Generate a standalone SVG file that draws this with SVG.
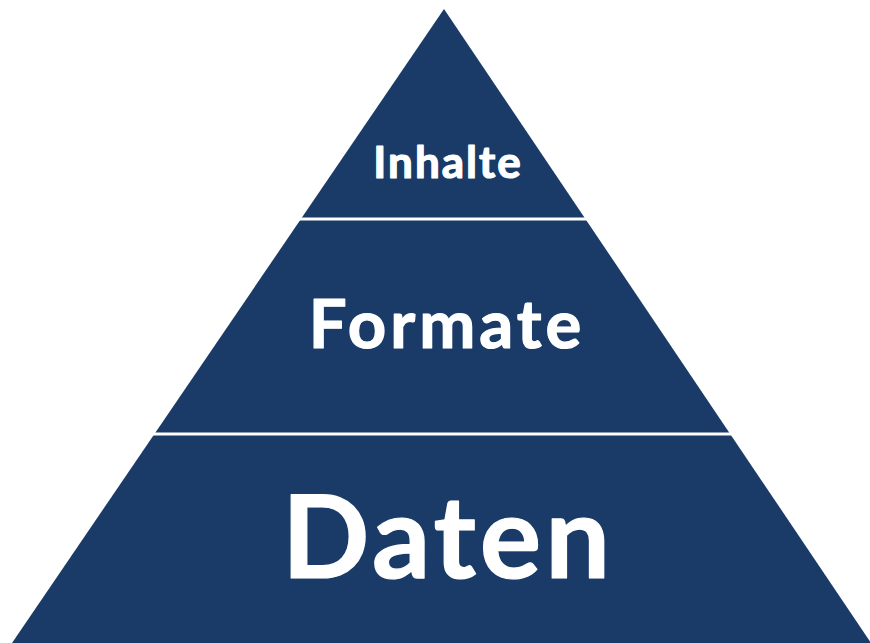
<svg xmlns="http://www.w3.org/2000/svg" width="870" height="643" viewBox="0 0 870 643">
  <style>
    .tier { fill: #1a3b68; }
    .divider { stroke: #ffffff; stroke-width: 3; }
    .label { fill: #ffffff; stroke: #ffffff; stroke-width: 1.2; stroke-linejoin: round; font-family: Lato, "Open Sans", "Liberation Sans", sans-serif; font-weight: 700; text-anchor: middle; }
  </style>
  <rect width="870" height="643" fill="#ffffff"/>
  <!-- pyramid body -->
  <g id="pyramid">
    <polygon class="tier" points="444,9 12,643 871,643"/>
  </g>
  <!-- tier dividers -->
  <g id="dividers">
    <line class="divider" x1="290" y1="219" x2="600" y2="219"/>
    <line class="divider" x1="140" y1="434" x2="750" y2="434"/>
  </g>
  <g id="tier-inhalte">
    <text class="label" x="448" y="178" font-size="44" letter-spacing="2">Inhalte</text>
  </g>
  <g id="tier-formate">
    <text class="label" x="447" y="348" font-size="67" letter-spacing="4">Formate</text>
  </g>
  <g id="tier-daten">
    <text class="label" x="448" y="578" font-size="115" letter-spacing="4">Daten</text>
  </g>
</svg>
